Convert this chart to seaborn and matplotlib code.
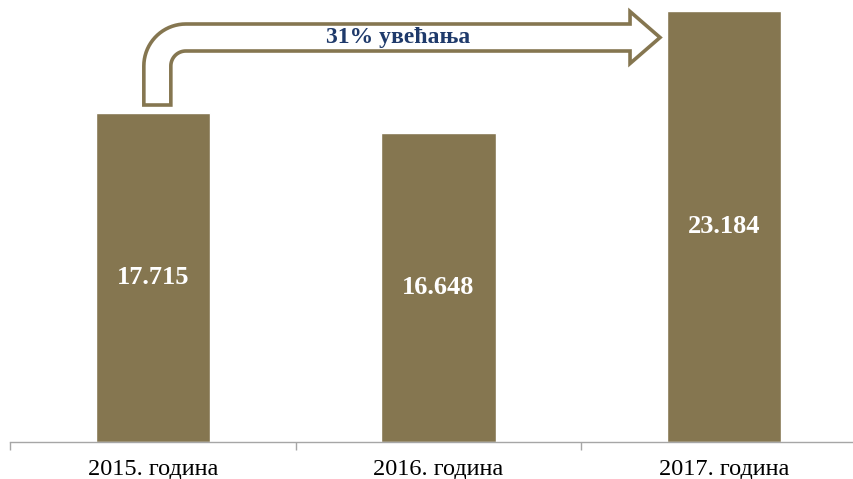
import matplotlib
matplotlib.use("Agg")
import matplotlib.pyplot as plt
import seaborn as sns
import pandas as pd
import numpy as np
from matplotlib.path import Path
from matplotlib.patches import PathPatch
from matplotlib.transforms import IdentityTransform

# data
years = ["2015. година", "2016. година", "2017. година"]
values = [17715, 16648, 23184]
growth_label = "31% увећања"

BAR = "#857650"
TEXT_BLUE = "#1F3A6B"
W, H, DPI = 8.54, 4.79, 100

sns.set_style("white")
plt.rcParams["font.family"] = ["Liberation Serif", "DejaVu Serif"]

df = pd.DataFrame({"year": years, "value": values})

fig = plt.figure(figsize=(W, H), dpi=DPI)
ax = fig.add_axes([10 / 854, 37 / 479, 857 / 854, 442 / 479])
sns.barplot(data=df, x="year", y="value", color=BAR, saturation=1, width=0.4, ax=ax)

ax.set_xlim(-0.5, 2.5)
ax.set_ylim(0, 23800)
ax.set_xlabel("")
ax.set_ylabel("")
ax.set_yticks([])
for s in ["top", "right", "left"]:
    ax.spines[s].set_visible(False)
ax.spines["bottom"].set_color("#A6A6A6")
ax.spines["bottom"].set_linewidth(1)
ax.set_xticks([0, 1, 2])
ax.set_xticklabels(years, fontsize=17.5, color="black")
ax.tick_params(axis="x", which="major", length=0, pad=12)
ax.set_xticks([-0.5, 0.5, 1.5, 2.5], minor=True)
ax.tick_params(axis="x", which="minor", bottom=True, length=6, color="#A6A6A6", width=1)

# value labels in the middle of the bars
for i, v in enumerate(values):
    lbl = f"{v:,}".replace(",", ".")
    ax.text(i, v / 2, lbl, ha="center", va="center", color="white",
            fontsize=19, fontweight="bold")

# hollow bent arrow from bar 1 to bar 3 (built in pixel space)
fig.canvas.draw()
pH = H * DPI
x0, top0 = ax.transData.transform((0, values[0]))
x2l, _ = ax.transData.transform((2 - 0.2, values[2]))
stem_l = x0 - 9
stem_r = stem_l + 27
stem_b = top0 + 8
shaft_t = pH - 24
shaft_b = shaft_t - 27
tip = x2l - 7
head_base = tip - 30
head_half = 26
cy = (shaft_t + shaft_b) / 2
cx = stem_l + 42
ccy = shaft_t - 42
R, r = 42, 15

verts = [(stem_l, stem_b)]
for a in np.linspace(np.pi, np.pi / 2, 20):
    verts.append((cx + R * np.cos(a), ccy + R * np.sin(a)))
verts += [(head_base, shaft_t), (head_base, cy + head_half), (tip, cy),
          (head_base, cy - head_half), (head_base, shaft_b)]
for a in np.linspace(np.pi / 2, np.pi, 20):
    verts.append((cx + r * np.cos(a), ccy + r * np.sin(a)))
verts += [(stem_r, stem_b), (stem_l, stem_b)]
codes = [Path.MOVETO] + [Path.LINETO] * (len(verts) - 2) + [Path.CLOSEPOLY]
arrow = PathPatch(Path(verts, codes), facecolor="white", edgecolor=BAR,
                  linewidth=2.6, transform=IdentityTransform(), joinstyle="miter")
fig.patches.append(arrow)
arrow.set_figure(fig)

fig.text(398 / 854, 1 - 38 / 479, growth_label, ha="center", va="center",
         color=TEXT_BLUE, fontsize=17, fontweight="bold")

plt.savefig("out.png", dpi=DPI)
